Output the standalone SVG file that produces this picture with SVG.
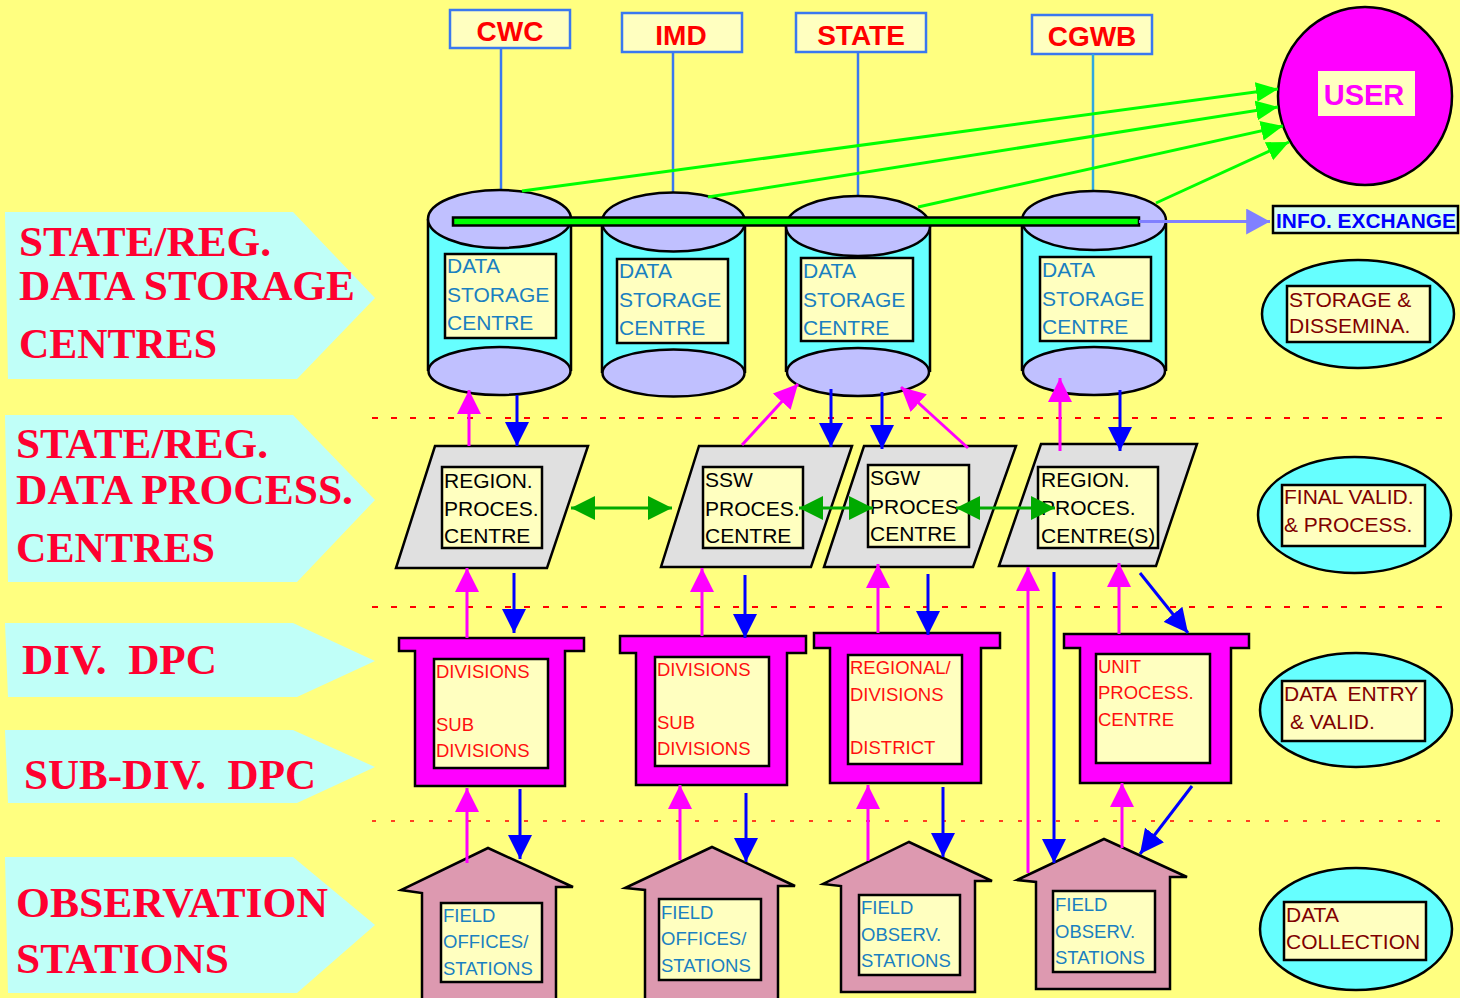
<svg xmlns="http://www.w3.org/2000/svg" width="1460" height="998" viewBox="0 0 1460 998">
<style>
.lab{fill:#C0FFF8}
.labt{font-family:"Liberation Serif","Times New Roman",serif;font-weight:bold;font-size:42px;fill:#FF0030}
.src{fill:#FFFFC0;stroke:#3A78F0;stroke-width:2.5}
.srct{font-family:"Liberation Sans",Arial,sans-serif;font-weight:bold;font-size:28px;fill:#FF0000;text-anchor:middle}
.body{fill:#66FFFF}
.side{stroke:#000;stroke-width:2.5;fill:none}
.ell{fill:#C0C0FF;stroke:#000;stroke-width:2.5}
.box{fill:#FFFFC0;stroke:#000;stroke-width:2.5}
.bt{font-family:"Liberation Sans",Arial,sans-serif;font-size:21px;fill:#1A80C0}
.pt{font-family:"Liberation Sans",Arial,sans-serif;font-size:21px;fill:#000}
.dt{font-family:"Liberation Sans",Arial,sans-serif;font-size:18.5px;fill:#FF1010}
.ht{font-family:"Liberation Sans",Arial,sans-serif;font-size:18.5px;fill:#1A80C0}
.rt{font-family:"Liberation Sans",Arial,sans-serif;font-size:21px;fill:#800000}
.par{fill:#E0E0E0;stroke:#000;stroke-width:2.5}
.dpc{fill:#FF00FF;stroke:#000;stroke-width:2.5}
.house{fill:#DD99B0;stroke:#000;stroke-width:2.5}
.rell{fill:#66FFFF;stroke:#000;stroke-width:2.5}
.mg{stroke:#FF00FF;stroke-width:3;fill:none;marker-end:url(#mh)}
.bl{stroke:#0000FF;stroke-width:3;fill:none;marker-end:url(#bh)}
.gd{stroke:#00AA00;stroke-width:3;fill:none;marker-start:url(#gdh);marker-end:url(#gdh)}
.gu{stroke:#00FF00;stroke-width:3;fill:none;marker-end:url(#guh)}
.vl{stroke:#3A78F0;stroke-width:2.5}
.dash{stroke:#FF0000;stroke-width:2;stroke-dasharray:6 13}
</style>
<defs>
<marker id="mh" markerUnits="userSpaceOnUse" markerWidth="24" markerHeight="24" viewBox="0 0 22 22" refX="22" refY="11" orient="auto"><path d="M0,0 L22,11 L0,22 z" fill="#FF00FF"/></marker>
<marker id="bh" markerUnits="userSpaceOnUse" markerWidth="24" markerHeight="24" viewBox="0 0 22 22" refX="22" refY="11" orient="auto"><path d="M0,0 L22,11 L0,22 z" fill="#0000FF"/></marker>
<marker id="gdh" markerUnits="userSpaceOnUse" markerWidth="24" markerHeight="24" viewBox="0 0 22 22" refX="22" refY="11" orient="auto-start-reverse"><path d="M0,0 L22,11 L0,22 z" fill="#00AA00"/></marker>
<marker id="guh" markerUnits="userSpaceOnUse" markerWidth="22" markerHeight="22" viewBox="0 0 20 18" refX="20" refY="9" orient="auto"><path d="M0,0 L20,9 L0,18 z" fill="#00FF00"/></marker>
<marker id="ih" markerUnits="userSpaceOnUse" markerWidth="24" markerHeight="26" viewBox="0 0 22 24" refX="22" refY="12" orient="auto"><path d="M0,0 L22,12 L0,24 z" fill="#8080FF"/></marker>
</defs>
<rect width="1460" height="998" fill="#FFFF80"/>

<g id="level-labels">
<g id="lab-storage"><polygon class="lab" points="5,212 293,212 375,298 297,379 8,379"/>
<text class="labt" x="19" y="256" textLength="252" lengthAdjust="spacingAndGlyphs">STATE/REG.</text><text class="labt" x="19" y="300" textLength="336" lengthAdjust="spacingAndGlyphs">DATA STORAGE</text><text class="labt" x="19" y="358" textLength="198" lengthAdjust="spacingAndGlyphs">CENTRES</text></g>
<g id="lab-process"><polygon class="lab" points="5,415 293,415 375,500 297,582 8,582"/>
<text class="labt" x="16" y="458" textLength="252" lengthAdjust="spacingAndGlyphs">STATE/REG.</text><text class="labt" x="16" y="504" textLength="337" lengthAdjust="spacingAndGlyphs">DATA PROCESS.</text><text class="labt" x="16" y="562" textLength="199" lengthAdjust="spacingAndGlyphs">CENTRES</text></g>
<g id="lab-div"><polygon class="lab" points="5,623 293,623 375,661 297,697 8,697"/>
<text class="labt" x="22" y="674" textLength="195" lengthAdjust="spacingAndGlyphs">DIV. &#160;DPC</text></g>
<g id="lab-subdiv"><polygon class="lab" points="5,730 293,730 375,767 297,803 8,803"/>
<text class="labt" x="24" y="789" textLength="292" lengthAdjust="spacingAndGlyphs">SUB-DIV. &#160;DPC</text></g>
<g id="lab-obs"><polygon class="lab" points="5,857 293,857 375,925 297,993 8,993"/>
<text class="labt" x="16" y="917" textLength="312" lengthAdjust="spacingAndGlyphs">OBSERVATION</text><text class="labt" x="16" y="973" textLength="213" lengthAdjust="spacingAndGlyphs">STATIONS</text></g>
</g>

<g id="separators">
<line class="dash" x1="372" y1="418" x2="1450" y2="418"/>
<line class="dash" x1="372" y1="607" x2="1450" y2="607"/>
<line x1="372" y1="821" x2="1450" y2="821" stroke="#FF0000" stroke-width="1.5" stroke-dasharray="4 15"/>
</g>

<g id="sources">
<g id="src-cwc"><rect class="src" x="450" y="10" width="120" height="38"/><text class="srct" x="510" y="41">CWC</text></g>
<g id="src-imd"><rect class="src" x="622" y="13" width="120" height="39"/><text class="srct" x="681" y="45">IMD</text></g>
<g id="src-state"><rect class="src" x="796" y="13" width="130" height="39"/><text class="srct" x="861" y="45">STATE</text></g>
<g id="src-cgwb"><rect class="src" x="1032" y="15" width="120" height="39"/><text class="srct" x="1092" y="46">CGWB</text></g>
</g>

<g id="source-links">
<line class="vl" x1="501" y1="48" x2="501" y2="190"/>
<line class="vl" x1="673" y1="52" x2="673" y2="193"/>
<line class="vl" x1="858" y1="52" x2="858" y2="196"/>
<line x1="1093" y1="54" x2="1093" y2="191" stroke="#30A8E0" stroke-width="2.5"/>
</g>

<g id="storage-centres">
<g id="dsc-cwc">
<rect class="body" x="428" y="219" width="143" height="152"/>
<path class="side" d="M428,219 V371 M571,219 V371"/>
<ellipse class="ell" cx="499.5" cy="371" rx="71" ry="24"/>
<ellipse class="ell" cx="499.5" cy="219" rx="71.5" ry="29"/>
<rect class="box" x="445" y="254" width="111" height="84"/>
<text class="bt" x="447" y="273">DATA</text><text class="bt" x="447" y="302">STORAGE</text><text class="bt" x="447" y="330">CENTRE</text>
</g>
<g id="dsc-imd">
<rect class="body" x="602" y="222" width="143" height="151"/>
<path class="side" d="M602,222 V373 M745,222 V373"/>
<ellipse class="ell" cx="673.5" cy="373" rx="71" ry="23.5"/>
<ellipse class="ell" cx="673.5" cy="222" rx="71.5" ry="29.5"/>
<rect class="box" x="617" y="259" width="111" height="84"/>
<text class="bt" x="619" y="278">DATA</text><text class="bt" x="619" y="307">STORAGE</text><text class="bt" x="619" y="335">CENTRE</text>
</g>
<g id="dsc-state">
<rect class="body" x="786" y="226" width="144" height="146"/>
<path class="side" d="M786,226 V372 M930,226 V372"/>
<ellipse class="ell" cx="858" cy="372" rx="71" ry="24"/>
<ellipse class="ell" cx="858" cy="226" rx="72" ry="30"/>
<rect class="box" x="801" y="258" width="112" height="83"/>
<text class="bt" x="803" y="278">DATA</text><text class="bt" x="803" y="307">STORAGE</text><text class="bt" x="803" y="335">CENTRE</text>
</g>
<g id="dsc-cgwb">
<rect class="body" x="1022" y="220" width="144" height="151"/>
<path class="side" d="M1022,220 V371 M1166,220 V371"/>
<ellipse class="ell" cx="1094" cy="371" rx="71" ry="24"/>
<ellipse class="ell" cx="1094" cy="220.5" rx="72" ry="29.5"/>
<rect class="box" x="1040" y="257" width="111" height="84"/>
<text class="bt" x="1042" y="277">DATA</text><text class="bt" x="1042" y="306">STORAGE</text><text class="bt" x="1042" y="334">CENTRE</text>
</g>
</g>

<g id="user"><ellipse cx="1365" cy="96" rx="87" ry="89" fill="#FF00FF" stroke="#000" stroke-width="2.5"/>
<rect x="1318" y="71" width="97" height="45" fill="#FFFFC0"/>
<text x="1364" y="105" text-anchor="middle" font-family="'Liberation Sans',Arial,sans-serif" font-weight="bold" font-size="29" fill="#FF00FF">USER</text></g>

<g id="info-exchange"><rect x="1273" y="206" width="185" height="27" fill="#D8FFF0" stroke="#000" stroke-width="2.5"/>
<text x="1276" y="228" font-family="'Liberation Sans',Arial,sans-serif" font-weight="bold" font-size="21" fill="#0000FF" textLength="180" lengthAdjust="spacingAndGlyphs">INFO. EXCHANGE</text></g>

<g id="process-centres">
<g id="pc-region1"><polygon class="par" points="435,446 588,446 547,568 396,568"/>
<rect class="box" x="442" y="467" width="100" height="81"/>
<text class="pt" x="444" y="488">REGION.</text><text class="pt" x="444" y="516">PROCES.</text><text class="pt" x="444" y="543">CENTRE</text></g>
<g id="pc-ssw"><polygon class="par" points="699,446 852,446 811,567 661,567"/>
<rect class="box" x="703" y="467" width="100" height="81"/>
<text class="pt" x="705" y="487">SSW</text><text class="pt" x="705" y="516">PROCES.</text><text class="pt" x="705" y="543">CENTRE</text></g>
<g id="pc-sgw"><polygon class="par" points="864,446 1016,446 973,567 824,567"/>
<rect class="box" x="868" y="465" width="101" height="82"/>
<text class="pt" x="870" y="485">SGW</text><text class="pt" x="870" y="514">PROCES</text><text class="pt" x="870" y="541">CENTRE</text></g>
<g id="pc-region2"><polygon class="par" points="1041,444 1197,444 1156,566 999,566"/>
<rect class="box" x="1038" y="467" width="120" height="81"/>
<text class="pt" x="1041" y="487">REGION.</text><text class="pt" x="1041" y="515">PROCES.</text><text class="pt" x="1041" y="543">CENTRE(S)</text></g>
</g>

<g id="dpcs">
<g id="dpc-1"><polygon class="dpc" points="399,638 584,638 584,651 565,651 565,786 415,786 415,651 399,651"/>
<rect class="box" x="434" y="659" width="114" height="109"/>
<text class="dt" x="436" y="678">DIVISIONS</text><text class="dt" x="436" y="731">SUB</text><text class="dt" x="436" y="757">DIVISIONS</text></g>
<g id="dpc-2"><polygon class="dpc" points="620,636 806,636 806,653 787,653 787,785 636,785 636,653 620,653"/>
<rect class="box" x="655" y="657" width="114" height="109"/>
<text class="dt" x="657" y="676">DIVISIONS</text><text class="dt" x="657" y="729">SUB</text><text class="dt" x="657" y="755">DIVISIONS</text></g>
<g id="dpc-3"><polygon class="dpc" points="814,633 1000,633 1000,648 981,648 981,783 830,783 830,648 814,648"/>
<rect class="box" x="848" y="655" width="114" height="109"/>
<text class="dt" x="850" y="674">REGIONAL/</text><text class="dt" x="850" y="701">DIVISIONS</text><text class="dt" x="850" y="754">DISTRICT</text></g>
<g id="dpc-4"><polygon class="dpc" points="1064,634 1249,634 1249,648 1231,648 1231,783 1080,783 1080,648 1064,648"/>
<rect class="box" x="1096" y="654" width="114" height="109"/>
<text class="dt" x="1098" y="673">UNIT</text><text class="dt" x="1098" y="699">PROCESS.</text><text class="dt" x="1098" y="726">CENTRE</text></g>
</g>

<g id="stations">
<g id="st-1"><polygon class="house" points="488,848 573,887 556,887 556,1002 422,1002 422,893 401,890"/>
<rect class="box" x="441" y="903" width="101" height="79"/>
<text class="ht" x="443" y="922">FIELD</text><text class="ht" x="443" y="948">OFFICES/</text><text class="ht" x="443" y="975">STATIONS</text></g>
<g id="st-2"><polygon class="house" points="712,847 795,886 778,886 778,1002 645,1002 645,890 625,888"/>
<rect class="box" x="659" y="899" width="102" height="81"/>
<text class="ht" x="661" y="919">FIELD</text><text class="ht" x="661" y="945">OFFICES/</text><text class="ht" x="661" y="972">STATIONS</text></g>
<g id="st-3"><polygon class="house" points="909,842 992,881 975,881 975,992 841,992 841,886 823,884"/>
<rect class="box" x="859" y="895" width="101" height="80"/>
<text class="ht" x="861" y="914">FIELD</text><text class="ht" x="861" y="941">OBSERV.</text><text class="ht" x="861" y="967">STATIONS</text></g>
<g id="st-4"><polygon class="house" points="1104,839 1187,877 1170,877 1170,989 1036,989 1036,882 1017,880"/>
<rect class="box" x="1053" y="891" width="102" height="81"/>
<text class="ht" x="1055" y="911">FIELD</text><text class="ht" x="1055" y="938">OBSERV.</text><text class="ht" x="1055" y="964">STATIONS</text></g>
</g>

<g id="legend">
<g id="lg-storage"><ellipse class="rell" cx="1358" cy="314" rx="96" ry="54"/>
<rect class="box" x="1287" y="286" width="143" height="56"/>
<text class="rt" x="1289" y="307">STORAGE &amp;</text><text class="rt" x="1289" y="333">DISSEMINA.</text></g>
<g id="lg-final"><ellipse class="rell" cx="1354.5" cy="515" rx="96.5" ry="58"/>
<rect class="box" x="1282" y="485" width="143" height="61"/>
<text class="rt" x="1284" y="504">FINAL VALID.</text><text class="rt" x="1284" y="532">&amp; PROCESS.</text></g>
<g id="lg-entry"><ellipse class="rell" cx="1356" cy="710" rx="96" ry="57"/>
<rect class="box" x="1282" y="681" width="143" height="60"/>
<text class="rt" x="1284" y="701">DATA &#160;ENTRY</text><text class="rt" x="1290" y="729">&amp; VALID.</text></g>
<g id="lg-collect"><ellipse class="rell" cx="1356" cy="929" rx="96" ry="61"/>
<rect class="box" x="1284" y="902" width="142" height="58"/>
<text class="rt" x="1286" y="922">DATA</text><text class="rt" x="1286" y="949">COLLECTION</text></g>
</g>

<g id="connectors">
<line class="gu" x1="522" y1="191" x2="1278" y2="89"/>
<line class="gu" x1="708" y1="197" x2="1278" y2="107"/>
<line class="gu" x1="918" y1="207" x2="1283" y2="126"/>
<line class="gu" x1="1156" y1="203" x2="1289" y2="142"/>
<rect x="453" y="217.5" width="686" height="8" fill="#00FF00" stroke="#000" stroke-width="2.5"/>
<line x1="1139" y1="221.5" x2="1270" y2="221.5" stroke="#8080FF" stroke-width="3" marker-end="url(#ih)"/>

<line class="mg" x1="469" y1="446" x2="469" y2="390"/>
<line class="bl" x1="517" y1="395" x2="517" y2="446"/>
<line class="mg" x1="742" y1="445" x2="798" y2="384"/>
<line class="bl" x1="831" y1="389" x2="831" y2="447"/>
<line class="bl" x1="882" y1="392" x2="882" y2="449"/>
<line class="mg" x1="968" y1="448" x2="901" y2="387"/>
<line class="mg" x1="1060" y1="451" x2="1060" y2="378"/>
<line class="bl" x1="1120" y1="390" x2="1120" y2="451"/>

<line class="gd" x1="571" y1="508" x2="672" y2="508"/>
<line class="gd" x1="799" y1="508" x2="873" y2="508"/>
<line class="gd" x1="956" y1="508" x2="1055" y2="508"/>

<line class="mg" x1="467" y1="638" x2="467" y2="568"/>
<line class="bl" x1="514" y1="573" x2="514" y2="633"/>
<line class="mg" x1="702" y1="636" x2="702" y2="568"/>
<line class="bl" x1="745" y1="575" x2="745" y2="638"/>
<line class="mg" x1="878" y1="633" x2="878" y2="564"/>
<line class="bl" x1="928" y1="574" x2="928" y2="635"/>
<line class="mg" x1="1119" y1="634" x2="1119" y2="563"/>
<line class="bl" x1="1140" y1="573" x2="1188" y2="633"/>
<line class="mg" x1="1028" y1="873" x2="1028" y2="567"/>
<line class="bl" x1="1054" y1="572" x2="1054" y2="863"/>

<line class="mg" x1="467" y1="863" x2="467" y2="788"/>
<line class="bl" x1="520" y1="789" x2="520" y2="859"/>
<line class="mg" x1="680" y1="860" x2="680" y2="785"/>
<line class="bl" x1="746" y1="793" x2="746" y2="862"/>
<line class="mg" x1="868" y1="861" x2="868" y2="785"/>
<line class="bl" x1="943" y1="787" x2="943" y2="857"/>
<line class="mg" x1="1122" y1="848" x2="1122" y2="783"/>
<line class="bl" x1="1192" y1="786" x2="1140" y2="854"/>
</g>
</svg>
